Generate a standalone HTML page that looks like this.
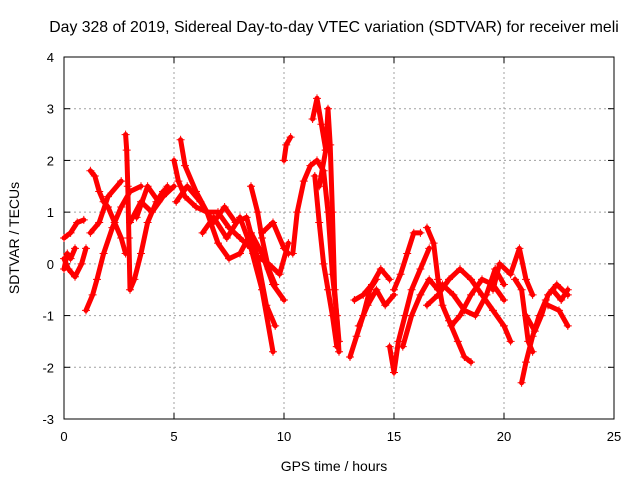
<!DOCTYPE html>
<html><head><meta charset="utf-8"><style>
body{margin:0;background:#fff}
svg{display:block;font-family:"Liberation Sans",sans-serif}
</style></head><body>
<svg id="chart" width="640" height="480">
<rect width="640" height="480" fill="#fff"/>
<text x="334" y="32" font-size="15.8" text-anchor="middle">Day 328 of 2019, Sidereal Day-to-day VTEC variation (SDTVAR) for receiver meli</text>
<g id="grid"></g>
<g id="axes"></g>
<g id="series"></g>
<text x="334" y="471" font-size="14" text-anchor="middle">GPS time / hours</text>
<text transform="translate(19,238) rotate(-90)" font-size="14" text-anchor="middle">SDTVAR / TECUs</text>
</svg>
<script>
const xTicks=[0,5,10,15,20,25];
const yTicks=[-3,-2,-1,0,1,2,3,4];
const tracks=[
[[0,0.5],[0.3,0.6],[0.6,0.8],[0.9,0.85]],
[[0,0.1],[0.2,-0.1],[0.5,-0.25],[0.8,0.0],[1.0,0.3]],
[[0,-0.1],[0.15,0.2],[0.3,0.1],[0.5,0.3]],
[[1.2,1.8],[1.4,1.7],[1.6,1.4],[1.8,1.2],[2.0,1.1],[2.3,0.8],[2.6,0.5],[2.8,0.2]],
[[1.0,-0.9],[1.3,-0.6],[1.5,-0.3],[1.8,0.2],[2.2,0.7],[2.6,1.1],[3.0,1.4],[3.5,1.5]],
[[1.2,0.6],[1.6,0.8],[2.0,1.3],[2.6,1.6]],
[[2.8,2.5],[2.85,2.2],[2.9,1.5],[2.95,0.5],[3.0,-0.5],[3.2,-0.3],[3.5,0.2],[3.8,0.8],[4.2,1.2],[4.5,1.4]],
[[3.0,0.8],[3.5,1.2],[4.0,1.0],[4.5,1.3],[5.0,1.5]],
[[3.3,0.9],[3.8,1.5],[4.3,1.2],[4.7,1.5]],
[[5.0,2.0],[5.2,1.6],[5.5,1.3],[6,1.1],[6.5,1.0],[7,1.0],[7.5,0.7],[8,0.5],[8.5,0.3],[9,-0.5],[9.5,-1.7]],
[[5.3,2.4],[5.5,1.9],[6,1.4],[6.5,1.0],[7,0.4],[7.5,0.1],[8,0.2],[8.5,0.6],[9,0.2],[9.5,-0.4],[10,-0.7]],
[[5.1,1.2],[5.6,1.5],[6.2,1.2],[6.8,0.8],[7.3,1.1],[7.8,0.8],[8.3,0.9],[8.8,0.1],[9.2,-0.8],[9.6,-1.2]],
[[6.3,0.6],[6.8,0.9],[7.4,0.5],[8.0,0.9],[8.6,0.2],[9.3,0.0],[9.8,-0.2],[10.2,0.4]],
[[8.5,1.5],[8.8,1.0],[9,0.5],[9.3,-0.1],[9.6,-0.4]],
[[9,0.6],[9.5,0.8],[10,0.3],[10.2,0.2]],
[[10,2.0],[10.1,2.3],[10.3,2.45]],
[[10.4,0.2],[10.6,1.0],[10.9,1.6],[11.2,1.9],[11.5,2.0],[11.8,1.8],[12,1.0],[12.2,-0.2],[12.4,-1.0],[12.5,-1.7]],
[[11.3,2.8],[11.5,3.2],[11.7,2.7],[11.9,2.2]],
[[11.6,1.5],[11.9,2.2],[12.0,3.0],[12.1,2.3],[12.2,1.0],[12.3,-0.5],[12.5,-1.5]],
[[11.4,1.7],[11.6,0.8],[11.8,0],[12,-0.5],[12.2,-1.0],[12.4,-1.6]],
[[13.0,-1.8],[13.3,-1.4],[13.6,-1.0],[13.9,-0.5],[14.2,-0.3]],
[[13.2,-0.7],[13.6,-0.6],[14.0,-0.4],[14.4,-0.1],[14.8,-0.3]],
[[13.4,-1.2],[13.8,-0.8],[14.2,-0.5],[14.6,-0.8],[15.0,-0.6]],
[[14.8,-1.6],[15,-2.1],[15.2,-1.5],[15.5,-1.0],[15.8,-0.5],[16.2,-0.1],[16.6,0.3]],
[[15.0,-0.5],[15.3,-0.2],[15.6,0.2],[15.9,0.6],[16.2,0.6]],
[[15.4,-1.6],[15.8,-1.0],[16.2,-0.6],[16.6,-0.3],[17.0,-0.5]],
[[16.5,0.7],[16.8,0.4],[17.0,-0.3],[17.2,-0.8],[17.5,-1.1],[17.9,-1.5],[18.2,-1.8],[18.5,-1.9]],
[[16.5,-0.8],[17,-0.6],[17.5,-0.3],[18,-0.1],[18.5,-0.3],[19,-0.6],[19.5,-0.9],[20,-1.2],[20.3,-1.5]],
[[17.2,-0.4],[17.7,-0.6],[18.2,-0.9],[18.7,-1.0],[19.2,-0.6],[19.6,-0.1],[20,-0.4]],
[[17.6,-1.2],[18.0,-1.0],[18.5,-0.6],[19.0,-0.3],[19.5,-0.4],[20.0,-0.7]],
[[19.5,-0.5],[19.8,0],[20.3,-0.2],[20.7,0.3],[21,-0.3],[21.3,-0.6]],
[[20.8,-2.3],[21,-1.9],[21.3,-1.4],[21.6,-1.0],[21.9,-0.7]],
[[21,-1.0],[21.4,-1.3],[21.7,-1.0],[22.0,-0.6],[22.4,-0.4],[22.9,-0.6]],
[[22,-0.8],[22.5,-0.9],[22.9,-1.2]],
[[22.2,-0.5],[22.6,-0.7],[22.9,-0.5]],
[[20.5,-0.3],[20.8,-0.5],[21.1,-1.5],[21.3,-1.7]]
];
const NS='http://www.w3.org/2000/svg';
const L=64,R=614,T=57,B=419;
const xs=v=>L+(v-0)/25*(R-L);
const ys=v=>B-(v+3)/7*(B-T);
function mk(tag,attrs,parent){const e=document.createElementNS(NS,tag);for(const k in attrs)e.setAttribute(k,attrs[k]);parent.appendChild(e);return e;}
const grid=document.getElementById('grid'),axes=document.getElementById('axes'),ser=document.getElementById('series');
xTicks.forEach(t=>{const x=xs(t);
 if(t>0&&t<25){const g=mk('line',{x1:x,x2:x,y1:T,y2:B,stroke:'#a0a0a0','stroke-dasharray':'2,3','stroke-width':1},grid);}
 mk('line',{x1:x,x2:x,y1:B,y2:B-6,stroke:'#000'},axes);mk('line',{x1:x,x2:x,y1:T,y2:T+6,stroke:'#000'},axes);
 const tx=mk('text',{x:x,y:B+22,'font-size':13,'text-anchor':'middle'},axes);tx.textContent=t;
 });
yTicks.forEach(t=>{const y=ys(t);
 if(t>-3&&t<4){const g=mk('line',{x1:L,x2:R,y1:y,y2:y,stroke:'#a0a0a0','stroke-dasharray':'2,3','stroke-width':1},grid);}
 mk('line',{x1:L,x2:L+6,y1:y,y2:y,stroke:'#000'},axes);mk('line',{x1:R,x2:R-6,y1:y,y2:y,stroke:'#000'},axes);
 const tx=mk('text',{x:L-10,y:y+5,'font-size':13,'text-anchor':'end'},axes);tx.textContent=t;
 });
const fr=mk('rect',{x:L,y:T,width:R-L,height:B-T,fill:'none',stroke:'#000'},axes);

tracks.forEach(tr=>{
 const pl=mk('polyline',{points:tr.map(p=>xs(p[0])+','+ys(p[1])).join(' '),fill:'none',stroke:'#f00','stroke-width':5,'stroke-linejoin':'round','stroke-linecap':'round'},ser);
 
 tr.forEach(p=>{const x=xs(p[0]),y=ys(p[1]);
  const m=mk('path',{d:`M${x-4},${y}H${x+4}M${x},${y-4}V${y+4}`,stroke:'#f00','stroke-width':1},ser);
  });
});
</script>
</body></html>
